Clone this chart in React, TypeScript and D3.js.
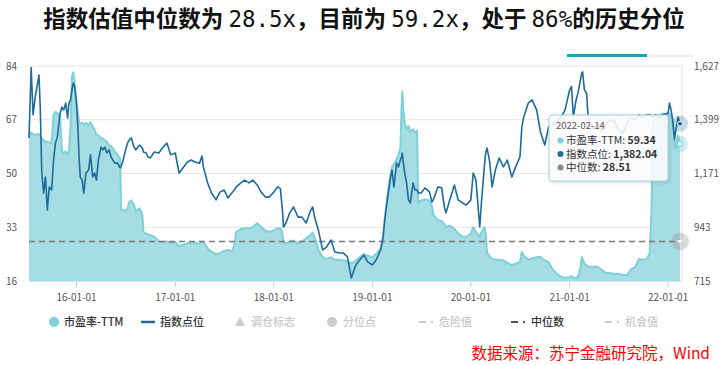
import * as d3 from "d3";

const W = 728;
const H = 365;
const PLOT = { left: 29, right: 680, top: 66, bottom: 281 };
const FONT = "'Noto Sans CJK SC', 'Noto Sans', sans-serif";

const titleParts = [
  { t: "指数估值中位数为 ", mono: false },
  { t: "28.5x", mono: true },
  { t: "，目前为 ", mono: false },
  { t: "59.2x", mono: true },
  { t: "，处于 ", mono: false },
  { t: "86%", mono: true },
  { t: "的历史分位", mono: false },
];
const source = "数据来源：苏宁金融研究院，Wind";

// dates of the sampled points
const dates = [
  "2015-07-09", "2015-07-17", "2015-07-24", "2015-08-01", "2015-08-10", "2015-08-15", "2015-08-20", "2015-08-25",
  "2015-09-01", "2015-09-08", "2015-09-15", "2015-09-22", "2015-10-01", "2015-10-08", "2015-10-15", "2015-10-22",
  "2015-11-01", "2015-11-08", "2015-11-15", "2015-11-22", "2015-11-29", "2015-12-04", "2015-12-10", "2015-12-15",
  "2015-12-20", "2015-12-25", "2016-01-01", "2016-01-06", "2016-01-11", "2016-01-15", "2016-01-22", "2016-01-28",
  "2016-02-05", "2016-02-15", "2016-02-22", "2016-03-01", "2016-03-08", "2016-03-15", "2016-03-22", "2016-04-01",
  "2016-04-08", "2016-04-15", "2016-04-22", "2016-05-01", "2016-05-08", "2016-05-15", "2016-05-22", "2016-06-01",
  "2016-06-08", "2016-06-11", "2016-06-14", "2016-06-22", "2016-07-01", "2016-07-08", "2016-07-15", "2016-07-22",
  "2016-08-01", "2016-08-08", "2016-08-15", "2016-08-22", "2016-09-01", "2016-09-05", "2016-09-15", "2016-09-22",
  "2016-10-01", "2016-10-15", "2016-11-01", "2016-11-15", "2016-12-01", "2016-12-15", "2017-01-01", "2017-01-15",
  "2017-02-01", "2017-02-15", "2017-03-01", "2017-03-15", "2017-04-01", "2017-04-10", "2017-04-15", "2017-05-01",
  "2017-05-15", "2017-06-01", "2017-06-15", "2017-07-01", "2017-07-15", "2017-08-01", "2017-08-10", "2017-08-15",
  "2017-09-01", "2017-09-15", "2017-10-01", "2017-10-15", "2017-11-01", "2017-11-15", "2017-12-01", "2017-12-15",
  "2018-01-01", "2018-01-15", "2018-01-25", "2018-02-01", "2018-02-06", "2018-02-15", "2018-03-01", "2018-03-15",
  "2018-04-01", "2018-04-15", "2018-05-01", "2018-05-15", "2018-05-25", "2018-06-01", "2018-06-15", "2018-07-01",
  "2018-07-15", "2018-08-01", "2018-08-15", "2018-09-01", "2018-09-15", "2018-10-01", "2018-10-15", "2018-11-01",
  "2018-11-15", "2018-12-01", "2018-12-15", "2019-01-01", "2019-01-15", "2019-02-01", "2019-02-10", "2019-02-15",
  "2019-02-22", "2019-03-01", "2019-03-08", "2019-03-15", "2019-03-22", "2019-04-01", "2019-04-08", "2019-04-15",
  "2019-04-19", "2019-04-22", "2019-04-26", "2019-05-01", "2019-05-08", "2019-05-15", "2019-05-22", "2019-06-01",
  "2019-06-08", "2019-06-16", "2019-06-20", "2019-07-01", "2019-07-15", "2019-08-01", "2019-08-10", "2019-08-15",
  "2019-09-01", "2019-09-15", "2019-09-25", "2019-10-01", "2019-10-15", "2019-11-01", "2019-11-15", "2019-12-01",
  "2019-12-15", "2020-01-01", "2020-01-10", "2020-01-20", "2020-02-03", "2020-02-10", "2020-02-20", "2020-02-25",
  "2020-03-01", "2020-03-10", "2020-03-20", "2020-04-01", "2020-04-15", "2020-05-01", "2020-05-15", "2020-06-01",
  "2020-06-15", "2020-07-01", "2020-07-08", "2020-07-15", "2020-08-01", "2020-08-15", "2020-09-01", "2020-09-15",
  "2020-10-01", "2020-10-15", "2020-11-01", "2020-11-15", "2020-12-01", "2020-12-15", "2021-01-01", "2021-01-08",
  "2021-01-15", "2021-01-25", "2021-02-01", "2021-02-10", "2021-02-15", "2021-02-18", "2021-02-25", "2021-03-05",
  "2021-03-10", "2021-03-15", "2021-04-01", "2021-04-15", "2021-05-01", "2021-05-15", "2021-06-01", "2021-06-15",
  "2021-07-01", "2021-07-15", "2021-08-01", "2021-08-15", "2021-09-01", "2021-09-15", "2021-10-01", "2021-10-15",
  "2021-10-25", "2021-11-01", "2021-11-05", "2021-11-15", "2021-12-01", "2021-12-15", "2022-01-01", "2022-01-06",
  "2022-01-12", "2022-01-18", "2022-01-25", "2022-01-28", "2022-02-07", "2022-02-14",
];

// 市盈率-TTM
const peValues = [
  61.2, 63.0, 62.5, 62.0, 62.5, 62.5, 62.0, 61.0,
  60.5, 60.0, 60.0, 59.8, 59.6, 68.5, 69.5, 69.0,
  68.5, 57.0, 56.5, 57.0, 56.0, 57.0, 65.0, 80.5,
  82.0, 79.0, 72.0, 69.0, 66.0, 66.0, 66.0, 65.5,
  66.0, 65.5, 66.3, 64.7, 64.0, 62.2, 62.0, 61.2,
  61.0, 60.5, 60.0, 59.0, 58.5, 58.0, 57.0, 56.0,
  55.0, 54.5, 38.5, 38.5, 38.0, 39.0, 41.0, 41.5,
  40.0, 38.0, 38.5, 39.0, 37.0, 31.5, 31.0, 30.8,
  30.5, 30.0, 28.5, 28.3, 28.5, 28.0, 28.3, 27.0,
  27.5, 28.0, 28.0, 28.0, 27.8, 28.5, 28.3, 26.3,
  25.3, 24.5, 24.8, 25.5, 25.8, 25.5, 28.5, 31.5,
  32.5, 32.7, 32.7, 33.0, 34.3, 33.0, 32.0, 31.5,
  32.0, 32.7, 32.7, 31.5, 28.0, 28.0, 28.5, 28.8,
  28.0, 28.5, 29.5, 30.5, 31.3, 30.0, 26.0, 23.5,
  23.0, 23.5, 22.7, 22.7, 22.5, 22.3, 21.5, 22.5,
  23.5, 24.5, 24.0, 23.5, 24.5, 26.3, 30.0, 35.0,
  40.0, 45.0, 49.0, 52.0, 53.0, 54.5, 56.0, 58.0,
  70.0, 76.0, 70.0, 66.0, 64.0, 65.0, 63.0, 64.0,
  63.0, 63.5, 40.6, 41.5, 41.8, 41.5, 39.5, 37.0,
  35.3, 35.0, 34.0, 33.0, 33.5, 32.5, 31.0, 30.0,
  30.0, 31.0, 33.0, 31.5, 30.0, 31.5, 33.0, 31.0,
  25.0, 23.8, 23.0, 22.8, 22.7, 22.5, 21.8, 21.0,
  21.5, 22.0, 25.2, 24.0, 22.7, 23.2, 23.5, 23.6,
  22.5, 22.0, 19.5, 18.3, 17.3, 17.0, 17.2, 17.5,
  17.0, 17.0, 17.3, 20.0, 23.6, 23.0, 21.5, 21.0,
  20.5, 20.5, 20.5, 20.5, 19.5, 18.5, 18.5, 18.2,
  18.3, 18.0, 17.8, 19.5, 20.5, 23.0, 22.7, 23.0,
  25.0, 40.0, 66.0, 68.0, 68.5, 69.0, 68.5, 69.0,
  68.0, 66.0, 60.0, 58.0, 62.0, 59.34,
];

// 指数点位
const indexValues = [
  1322, 1620, 1420, 1495, 1555, 1589, 1440, 1186,
  1088, 1156, 1016, 1114, 1101, 1228, 1300, 1326,
  1427, 1453, 1440, 1470, 1406, 1470, 1483, 1525,
  1555, 1540, 1470, 1368, 1228, 1156, 1143, 1088,
  1173, 1186, 1250, 1156, 1173, 1143, 1228, 1283,
  1271, 1283, 1258, 1271, 1241, 1228, 1215, 1215,
  1199, 1195, 1200, 1228, 1271, 1300, 1315, 1322,
  1283, 1271, 1283, 1292, 1279, 1262, 1258, 1241,
  1237, 1262, 1258, 1280, 1300, 1250, 1258, 1173,
  1199, 1220, 1228, 1220, 1215, 1245, 1199, 1131,
  1088, 1059, 1092, 1101, 1067, 1092, 1105, 1114,
  1131, 1143, 1131, 1143, 1122, 1092, 1071, 1071,
  1092, 1114, 1108, 1029, 944, 961, 1004, 1029,
  986, 986, 961, 1008, 1029, 986, 931, 847,
  859, 889, 838, 834, 834, 817, 728, 783,
  804, 825, 796, 783, 804, 847, 902, 961,
  1029, 1088, 1143, 1186, 1114, 1215, 1199, 1228,
  1241, 1258, 1215, 1173, 1131, 1059, 1046, 1131,
  1101, 1101, 1088, 1088, 1110, 1092, 1050, 1059,
  1114, 1110, 1029, 1004, 1059, 1122, 1059, 1046,
  1037, 1059, 1173, 1143, 944, 1059, 1199, 1258,
  1279, 1228, 1114, 1186, 1237, 1199, 1228, 1156,
  1199, 1241, 1368, 1411, 1470, 1483, 1440, 1347,
  1292, 1368, 1380, 1390, 1410, 1440, 1525, 1540,
  1411, 1483, 1512, 1568, 1597, 1602, 1525, 1512,
  1419, 1380, 1360, 1380, 1350, 1380, 1400, 1390,
  1360, 1340, 1380, 1410, 1400, 1420, 1410, 1420,
  1420, 1415, 1410, 1420, 1410, 1420, 1428, 1470,
  1440, 1398, 1313, 1343, 1411, 1382.04,
];

const medianPe = 28.51;
const peTicks = [16, 33, 50, 67, 84];
const indexTicks = [715, 943, 1171, 1399, 1627];
const xTickDates = ["2016-01-01", "2017-01-01", "2018-01-01", "2019-01-01", "2020-01-01", "2021-01-01", "2022-01-01"];

const legendItems = [
  { label: "市盈率-TTM", kind: "dot", color: "#7fd0d8", active: true, x: 54 },
  { label: "指数点位", kind: "line", color: "#1e6b9a", active: true, x: 141 },
  { label: "调仓标志", kind: "triangle", color: "#cccccc", active: false, x: 240 },
  { label: "分位点", kind: "circle", color: "#cccccc", active: false, x: 332 },
  { label: "危险值", kind: "dashdot", color: "#cccccc", active: false, x: 419 },
  { label: "中位数", kind: "dashdot", color: "#555555", active: true, x: 511 },
  { label: "机会值", kind: "dashdot", color: "#cccccc", active: false, x: 605 },
];

const tipDate = "2022-02-14";
const tipRows = [
  { name: "市盈率-TTM: ", value: "59.34", color: "#7fd0d8" },
  { name: "指数点位: ", value: "1,382.04", color: "#1e6b9a" },
  { name: "中位数: ", value: "28.51", color: "#888888" },
];

type Point = { date: Date; pe: number; idx: number };

export default function App() {
  const parse = d3.timeParse("%Y-%m-%d");
  const data: Point[] = dates.map((d, i) => ({ date: parse(d)!, pe: peValues[i], idx: indexValues[i] }));

  const x = d3
    .scaleTime()
    .domain(d3.extent(data, (d) => d.date) as [Date, Date])
    .range([PLOT.left, PLOT.right]);
  const yPe = d3.scaleLinear().domain([16, 84]).range([PLOT.bottom, PLOT.top]);
  const yIdx = d3.scaleLinear().domain([715, 1627]).range([PLOT.bottom, PLOT.top]);

  const areaPath = d3
    .area<Point>()
    .x((d) => x(d.date))
    .y0(PLOT.bottom)
    .y1((d) => yPe(d.pe))(data)!;
  const pePath = d3
    .line<Point>()
    .x((d) => x(d.date))
    .y((d) => yPe(d.pe))(data)!;
  const idxPath = d3
    .line<Point>()
    .x((d) => x(d.date))
    .y((d) => yIdx(d.idx))(data)!;

  const last = data[data.length - 1];
  const lx = x(last.date);
  const gridRight = PLOT.right + 2;

  return (
    <div style={{ position: "absolute", left: 0, top: 0 }}>
      <svg width={W} height={H} style={{ display: "block", background: "#fff" }} fontFamily={FONT}>
        {/* title */}
        <text x={W / 2} y={27} textAnchor="middle" fontSize={22.5} fontWeight={700} fill="#111">
          {titleParts.map((p, i) => (
            <tspan key={i} fontFamily={p.mono ? "'DejaVu Sans Mono', monospace" : FONT} fontWeight={p.mono ? 400 : 700}>
              {p.t}
            </tspan>
          ))}
        </text>

        {/* tab indicator above the plot */}
        <rect x={567} y={54} width={80} height={3} fill="#1aa3b8" />
        <line x1={647} x2={693} y1={56} y2={56} stroke="#dddddd" />

        {/* grid */}
        {peTicks.map((t) => (
          <line key={t} x1={PLOT.left} x2={gridRight} y1={yPe(t)} y2={yPe(t)} stroke="#e6e6e6" />
        ))}
        <line x1={gridRight} x2={gridRight} y1={PLOT.top} y2={PLOT.bottom} stroke="#e0e0e0" />

        {/* PE area + line */}
        <path d={areaPath} fill="#a6dce3" stroke="none" />
        <path d={pePath} fill="none" stroke="#7fd0d8" strokeWidth={2} strokeLinejoin="round" />

        {/* median */}
        <line
          x1={PLOT.left}
          x2={gridRight}
          y1={yPe(medianPe)}
          y2={yPe(medianPe)}
          stroke="#7a7a7a"
          strokeWidth={1.5}
          strokeDasharray="6,4"
        />

        {/* index line */}
        <path d={idxPath} fill="none" stroke="#1e6b9a" strokeWidth={1.6} strokeLinejoin="round" />

        {/* x axis */}
        <line x1={PLOT.left} x2={gridRight} y1={PLOT.bottom + 0.5} y2={PLOT.bottom + 0.5} stroke="#c9e6ea" />
        {xTickDates.map((d) => {
          const tx = x(parse(d)!);
          return (
            <g key={d}>
              <line x1={tx} x2={tx} y1={PLOT.bottom + 1} y2={PLOT.bottom + 6} stroke="#c8c8d8" />
              <text x={tx} y={301} textAnchor="middle" fontSize={10} fill="#555">
                {d3.timeFormat("%y-%m-%d")(parse(d)!)}
              </text>
            </g>
          );
        })}

        {/* y axes */}
        {peTicks.map((t) => (
          <text key={t} x={17} y={yPe(t) + 3.5} textAnchor="end" fontSize={10} fill="#555">
            {t}
          </text>
        ))}
        {indexTicks.map((t) => (
          <text key={t} x={694} y={yIdx(t) + 3.5} textAnchor="start" fontSize={10} fill="#555">
            {d3.format(",")(t)}
          </text>
        ))}

        {/* crosshair markers */}
        <circle cx={lx} cy={yIdx(last.idx)} r={8} fill="#1e6b9a" opacity={0.25} />
        <circle cx={lx} cy={yIdx(last.idx)} r={2.5} fill="#1e6b9a" stroke="#fff" strokeWidth={1} />
        <circle cx={lx} cy={yPe(last.pe)} r={8} fill="#7fd0d8" opacity={0.35} />
        <circle cx={lx} cy={yPe(last.pe)} r={2.5} fill="#fff" stroke="#7fd0d8" strokeWidth={1.2} />
        <circle cx={lx} cy={yPe(medianPe)} r={9} fill="#999" opacity={0.35} />
        <path
          d={`M${lx - 3},${yPe(medianPe) - 1.5} L${lx + 3},${yPe(medianPe) - 1.5} L${lx},${yPe(medianPe) + 2.5} Z`}
          fill="#fff"
        />

        {/* tooltip */}
        <g>
          <rect
            x={549}
            y={115}
            width={119}
            height={66}
            rx={3}
            fill="rgba(255,255,255,0.88)"
            stroke="#9fd6dc"
            strokeWidth={1}
            style={{ filter: "drop-shadow(1px 1px 2px rgba(0,0,0,0.15))" }}
          />
          <text x={556} y={129} fontSize={9.5} fill="#555">
            {tipDate}
          </text>
          {tipRows.map((r, i) => (
            <g key={r.name}>
              <circle cx={560.5} cy={140.5 + i * 13.5} r={3} fill={r.color} />
              <text x={566} y={144 + i * 13.5} fontSize={10.5} fill="#333">
                {r.name}
                <tspan fontWeight={700}>{r.value}</tspan>
              </text>
            </g>
          ))}
        </g>

        {/* legend */}
        {legendItems.map((it) => {
          const cy = 322;
          const textColor = it.active ? "#333" : "#c8c8c8";
          let icon = null;
          let tx = it.x + 10;
          if (it.kind === "dot") {
            icon = <circle cx={it.x} cy={cy} r={5} fill={it.color} />;
          } else if (it.kind === "line") {
            icon = <line x1={it.x} x2={it.x + 14} y1={cy} y2={cy} stroke={it.color} strokeWidth={2.5} />;
            tx = it.x + 19;
          } else if (it.kind === "triangle") {
            icon = <path d={`M${it.x},${cy - 5} L${it.x + 5},${cy + 4} L${it.x - 5},${cy + 4} Z`} fill={it.color} />;
            tx = it.x + 11;
          } else if (it.kind === "circle") {
            icon = <circle cx={it.x} cy={cy} r={5} fill={it.color} />;
            tx = it.x + 11;
          } else {
            icon = (
              <g>
                <line x1={it.x} x2={it.x + 7} y1={cy} y2={cy} stroke={it.color} strokeWidth={2} />
                <circle cx={it.x + 13} cy={cy} r={1.2} fill={it.color} />
              </g>
            );
            tx = it.x + 20;
          }
          return (
            <g key={it.label}>
              {icon}
              <text x={tx} y={cy + 4} fontSize={11} fontWeight={500} fill={textColor}>
                {it.label}
              </text>
            </g>
          );
        })}

        {/* source */}
        <text x={710} y={359} textAnchor="end" fontSize={15.5} fill="#ff0000">
          {source}
        </text>
      </svg>
    </div>
  );
}
